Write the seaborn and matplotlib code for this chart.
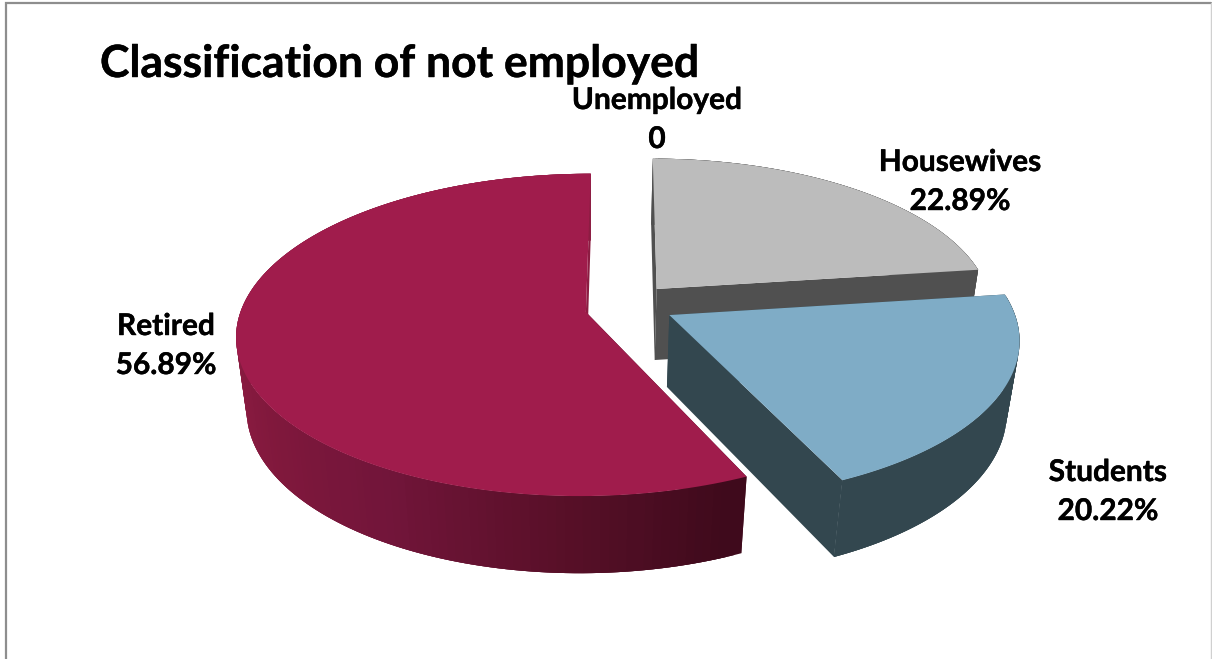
import numpy as np
import matplotlib
matplotlib.use("Agg")
import matplotlib.pyplot as plt
import matplotlib.patheffects as pe
import seaborn as sns

# Shares of the not-employed population, clockwise from twelve o'clock
categories = ["Housewives", "Students", "Retired", "Unemployed"]
shares = [22.89, 20.22, 56.89, 0]
title_text = "Classification of not employed"

# Slice styling
top_colors = {"Housewives": "#bcbcbc", "Students": "#7facc6", "Retired": "#a01c4c"}
wall_colors = {
    "Housewives": ["#505050", "#505050"],
    "Students": ["#33474f", "#33474f"],
    "Retired": ["#3f0a1c", "#5a1029", "#72153a", "#80183c", "#8c1c42",
                "#8c1c42", "#8c1c42", "#8c1c42", "#8c1c42"],
}
# Pull-out in the disc plane (right, back) and radius factor per slice
offsets = {"Housewives": (0.198, 0.147, 0.965), "Students": (0.232, -0.019, 0.985),
           "Retired": (-0.006, 0.0, 0.987)}
label_xy = {"Housewives": (960, 162), "Students": (1108, 472),
            "Retired": (166, 326), "Unemployed": (657, 100)}

# Camera model of the tilted disc
CX, CY, RX, RY = 588.0, 312.0, 350.0, 160.0
TILT, SHEAR, DEPTH, DEPTH_PERSP = 0.144, 0.015, 74.0, 0.03


def project(u, v, z=0.0):
    """Map disc-plane coordinates (z=0 top face, z=1 bottom face) to the canvas."""
    u, v = np.asarray(u, float), np.asarray(v, float)
    w = 1 + TILT * v + DEPTH_PERSP * z
    return CX + RX * (u + SHEAR * v) / w, CY + (-RY * v + DEPTH * z) / w


sns.set_theme(style="white")
plt.rcParams["font.family"] = ["Lato", "DejaVu Sans"]

fig = plt.figure(figsize=(12.12, 6.59), dpi=100, facecolor="white")
ax = fig.add_axes([0, 0, 1, 1])
ax.set_xlim(0, 1212)
ax.set_ylim(659, 0)
ax.axis("off")

# Chart-area border, clipped by the canvas at the bottom
ax.plot([5.5, 5.5, 1211], [659, 3, 3], color="#8e8e8e", lw=1.6, solid_joinstyle="miter")
ax.plot([1211, 1211], [3, 659], color="#d0d0d0", lw=1.0)

# Start angles accumulate from the shares; the back slices are painted first
edges = np.cumsum([0] + shares) / sum(shares) * 2 * np.pi
for name, a0, a1 in zip(categories, edges[:-1], edges[1:]):
    if a1 <= a0:
        continue
    du, dv, scale = offsets[name]
    theta = np.linspace(a0, a1, 161)
    rim_u = du + scale * np.sin(theta)
    rim_v = dv + scale * np.cos(theta)

    palette = sns.blend_palette(wall_colors[name], n_colors=len(theta) - 1)
    # Radial walls, each in the shade of the rim it meets
    for end_u, end_v, shade in ((rim_u[0], rim_v[0], palette[0]), (rim_u[-1], rim_v[-1], palette[-1])):
        px, py = zip(*[project(a, b, c) for a, b, c in
                       zip([du, end_u, end_u, du], [dv, end_v, end_v, dv], [0, 0, 1, 1])])
        ax.fill(px, py, color=shade, lw=0)
    # Curved outer wall, shaded along the rim; each strip overlaps the next to hide seams
    for i in range(len(theta) - 2, -1, -1):
        j = min(i + 4, len(theta))
        x0, y0 = project(rim_u[i:j], rim_v[i:j], 0)
        x1, y1 = project(rim_u[i:j], rim_v[i:j], 1)
        ax.fill(np.r_[x0, x1[::-1]], np.r_[y0, y1[::-1]], color=palette[i], lw=0)
    # Top face
    tx, ty = project(np.r_[du, rim_u], np.r_[dv, rim_v], 0)
    ax.fill(tx, ty, color=top_colors[name], lw=0)

# Slightly heavier strokes for the bold labels
heavy = [pe.withStroke(linewidth=0.3, foreground="black")]

# Category and value labels
for name, value in zip(categories, shares):
    x, y = label_xy[name]
    value_text = f"{value:.2f}%" if value else "0"
    ax.text(x, y, name, ha="center", va="center", fontsize=21.5, fontweight="bold",
            color="black", path_effects=heavy)
    ax.text(x, y + 39, value_text, ha="center", va="center", fontsize=21.5, fontweight="bold",
            color="black", path_effects=heavy)

ax.text(100, 64, title_text, ha="left", va="center", fontsize=32, fontweight="bold",
        color="black", path_effects=heavy)

fig.savefig("out.png", dpi=100, facecolor="white")
